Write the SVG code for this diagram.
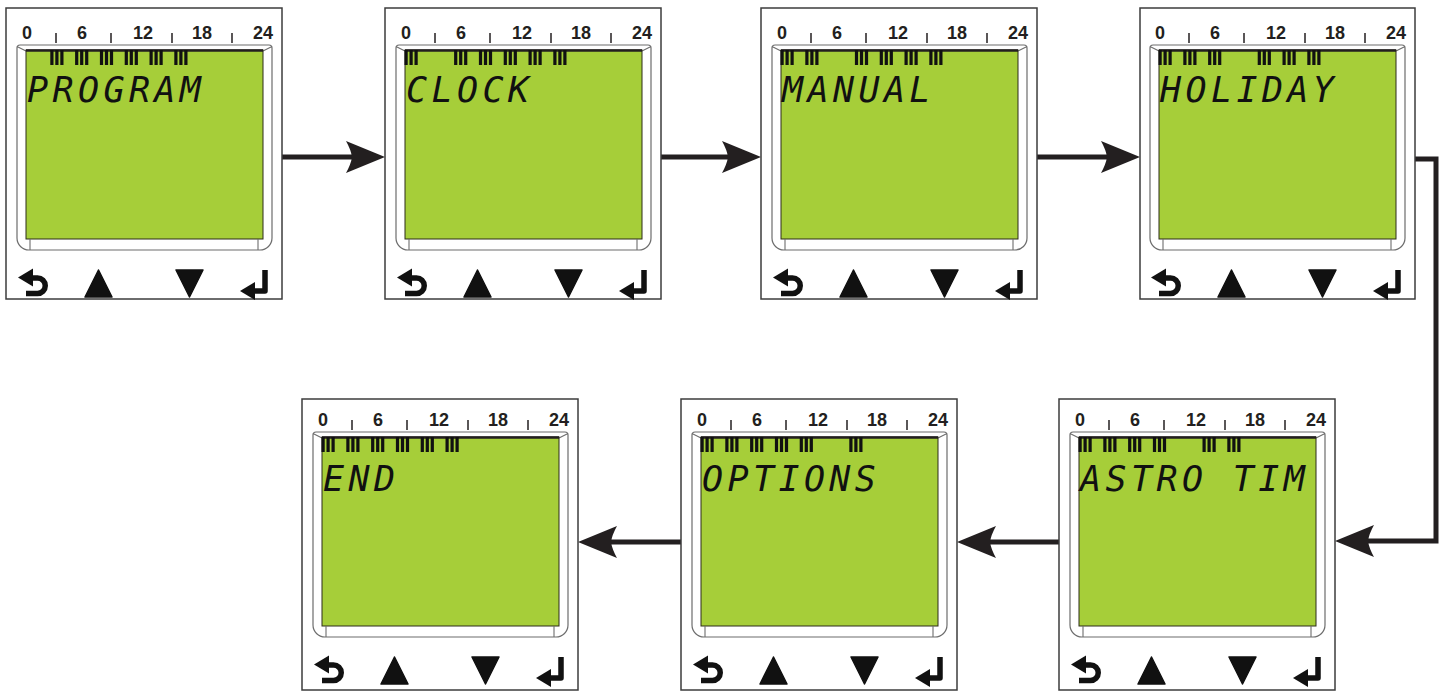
<svg xmlns="http://www.w3.org/2000/svg" width="1445" height="692" viewBox="0 0 1445 692">
<defs>
<style>
.frame{fill:#fff;stroke:#3c3c3c;stroke-width:1.5}
.bezel{fill:#fff;stroke:#6d6d6d;stroke-width:1.2}
.lcd{fill:#a6ce39;stroke:#2d2d1a;stroke-width:1}
.edge{stroke:#231f20;stroke-width:2.5}
.thin{stroke:#6d6d6d;stroke-width:1.1}
.scale{font-family:"Liberation Sans",Arial,sans-serif;font-weight:bold;font-size:18px;fill:#231f20;text-anchor:middle}
.tick{stroke:#231f20;stroke-width:1.5}
.lcdtext{font-family:"DejaVu Sans Mono","Liberation Mono",monospace;font-style:oblique;font-size:35px;letter-spacing:4.4px;fill:#111}
.btn{fill:#111}
.btnl{fill:none;stroke:#111;stroke-width:5.5}
.bar{fill:#111}
.conn{fill:none;stroke:#231f20;stroke-width:5;stroke-linejoin:miter}
</style>
<marker id="ah" markerUnits="userSpaceOnUse" markerWidth="40" markerHeight="34" refX="6" refY="17" orient="auto" overflow="visible">
<path d="M0,1 L39,17 L0,33 Q5,24 6,17 Q5,10 0,1 Z" fill="#231f20"/>
</marker>
<g id="bar3">
<rect class="bar" x="0" y="42" width="3.2" height="15"/>
<rect class="bar" x="5" y="42" width="3.2" height="15"/>
<rect class="bar" x="10" y="42" width="3.2" height="15"/>
</g>
<g id="panel">
<text class="scale" x="21" y="31">0</text>
<text class="scale" x="76" y="31">6</text>
<text class="scale" x="137" y="31">12</text>
<text class="scale" x="196" y="31">18</text>
<text class="scale" x="257" y="31">24</text>
<line class="tick" x1="50" y1="25" x2="50" y2="35"/>
<line class="tick" x1="105" y1="25" x2="105" y2="35"/>
<line class="tick" x1="166" y1="25" x2="166" y2="35"/>
<line class="tick" x1="226" y1="25" x2="226" y2="35"/>
<path class="bezel" d="M11,40 Q11,37 14,37 H263 Q266,37 266,40 V230 A12 12 0 0 1 254,242 H23 A12 12 0 0 1 11,230 Z"/>
<line class="thin" x1="11" y1="38.5" x2="20" y2="43"/>
<line class="thin" x1="266" y1="38.5" x2="257" y2="43"/>
<rect class="lcd" x="20" y="42" width="237" height="189"/>
<line class="edge" x1="20" y1="42.5" x2="257" y2="42.5"/>
<line class="thin" x1="24" y1="231" x2="24" y2="242"/>
<line class="thin" x1="252" y1="231" x2="252" y2="242"/>
<path class="btnl" d="M22,270 H31.5 A7.75 7.75 0 0 1 31.5,285.5 H20"/>
<polygon class="btn" points="12,269.5 27,260.5 27,278.5"/>
<polygon class="btn" points="79,289 106,289 92.5,262" stroke="#111" stroke-width="1.5" stroke-linejoin="round"/>
<polygon class="btn" points="170,262 197,262 183.5,289" stroke="#111" stroke-width="1.5" stroke-linejoin="round"/>
<path class="btnl" d="M259,262 V283 H246" stroke-linejoin="round"/>
<polygon class="btn" points="234,283 249,274 249,292"/>
</g>
</defs>

<g id="connectors">
<path class="conn" d="M282,157 H352" marker-end="url(#ah)"/>
<path class="conn" d="M661,157 H728" marker-end="url(#ah)"/>
<path class="conn" d="M1037,157 H1107" marker-end="url(#ah)"/>
<path class="conn" d="M1415,159 H1436 V541 H1368" marker-end="url(#ah)"/>
<path class="conn" d="M1059,542 H990" marker-end="url(#ah)"/>
<path class="conn" d="M681,542 H611" marker-end="url(#ah)"/>
</g>

<g id="node-program" transform="translate(6,8)">
<rect class="frame" x="0" y="0" width="276" height="291"/>
<use href="#panel"/>
<use href="#bar3" x="44.3"/><use href="#bar3" x="69.1"/><use href="#bar3" x="93.9"/><use href="#bar3" x="118.7"/><use href="#bar3" x="143.5"/><use href="#bar3" x="168.3"/>
<text class="lcdtext" x="21" y="94">PROGRAM</text>
</g>

<g id="node-clock" transform="translate(385,8)">
<rect class="frame" x="0" y="0" width="276" height="291"/>
<use href="#panel"/>
<use href="#bar3" x="19.5"/><use href="#bar3" x="69.1"/><use href="#bar3" x="93.9"/><use href="#bar3" x="118.7"/><use href="#bar3" x="143.5"/><use href="#bar3" x="168.3"/>
<text class="lcdtext" x="21" y="94">CLOCK</text>
</g>

<g id="node-manual" transform="translate(761,8)">
<rect class="frame" x="0" y="0" width="276" height="291"/>
<use href="#panel"/>
<use href="#bar3" x="19.5"/><use href="#bar3" x="44.3"/><use href="#bar3" x="93.9"/><use href="#bar3" x="118.7"/><use href="#bar3" x="143.5"/><use href="#bar3" x="168.3"/>
<text class="lcdtext" x="21" y="94">MANUAL</text>
</g>

<g id="node-holiday" transform="translate(1139,8)">
<rect class="frame" x="1" y="0" width="275" height="291"/>
<use href="#panel"/>
<use href="#bar3" x="19.5"/><use href="#bar3" x="44.3"/><use href="#bar3" x="69.1"/><use href="#bar3" x="118.7"/><use href="#bar3" x="143.5"/><use href="#bar3" x="168.3"/>
<text class="lcdtext" x="21" y="94">HOLIDAY</text>
</g>

<g id="node-astro" transform="translate(1059,395)">
<rect class="frame" x="0" y="4" width="276" height="291"/>
<use href="#panel"/>
<use href="#bar3" x="19.5"/><use href="#bar3" x="44.3"/><use href="#bar3" x="69.1"/><use href="#bar3" x="93.9"/><use href="#bar3" x="143.5"/><use href="#bar3" x="168.3"/>
<text class="lcdtext" x="21" y="96">ASTRO TIM</text>
</g>

<g id="node-options" transform="translate(681,395)">
<rect class="frame" x="0" y="4" width="276" height="291"/>
<use href="#panel"/>
<use href="#bar3" x="19.5"/><use href="#bar3" x="44.3"/><use href="#bar3" x="69.1"/><use href="#bar3" x="93.9"/><use href="#bar3" x="118.7"/><use href="#bar3" x="168.3"/>
<text class="lcdtext" x="21" y="96">OPTIONS</text>
</g>

<g id="node-end" transform="translate(302,395)">
<rect class="frame" x="0" y="4" width="276" height="291"/>
<use href="#panel"/>
<use href="#bar3" x="19.5"/><use href="#bar3" x="44.3"/><use href="#bar3" x="69.1"/><use href="#bar3" x="93.9"/><use href="#bar3" x="118.7"/><use href="#bar3" x="143.5"/>
<text class="lcdtext" x="21" y="96">END</text>
</g>
</svg>
